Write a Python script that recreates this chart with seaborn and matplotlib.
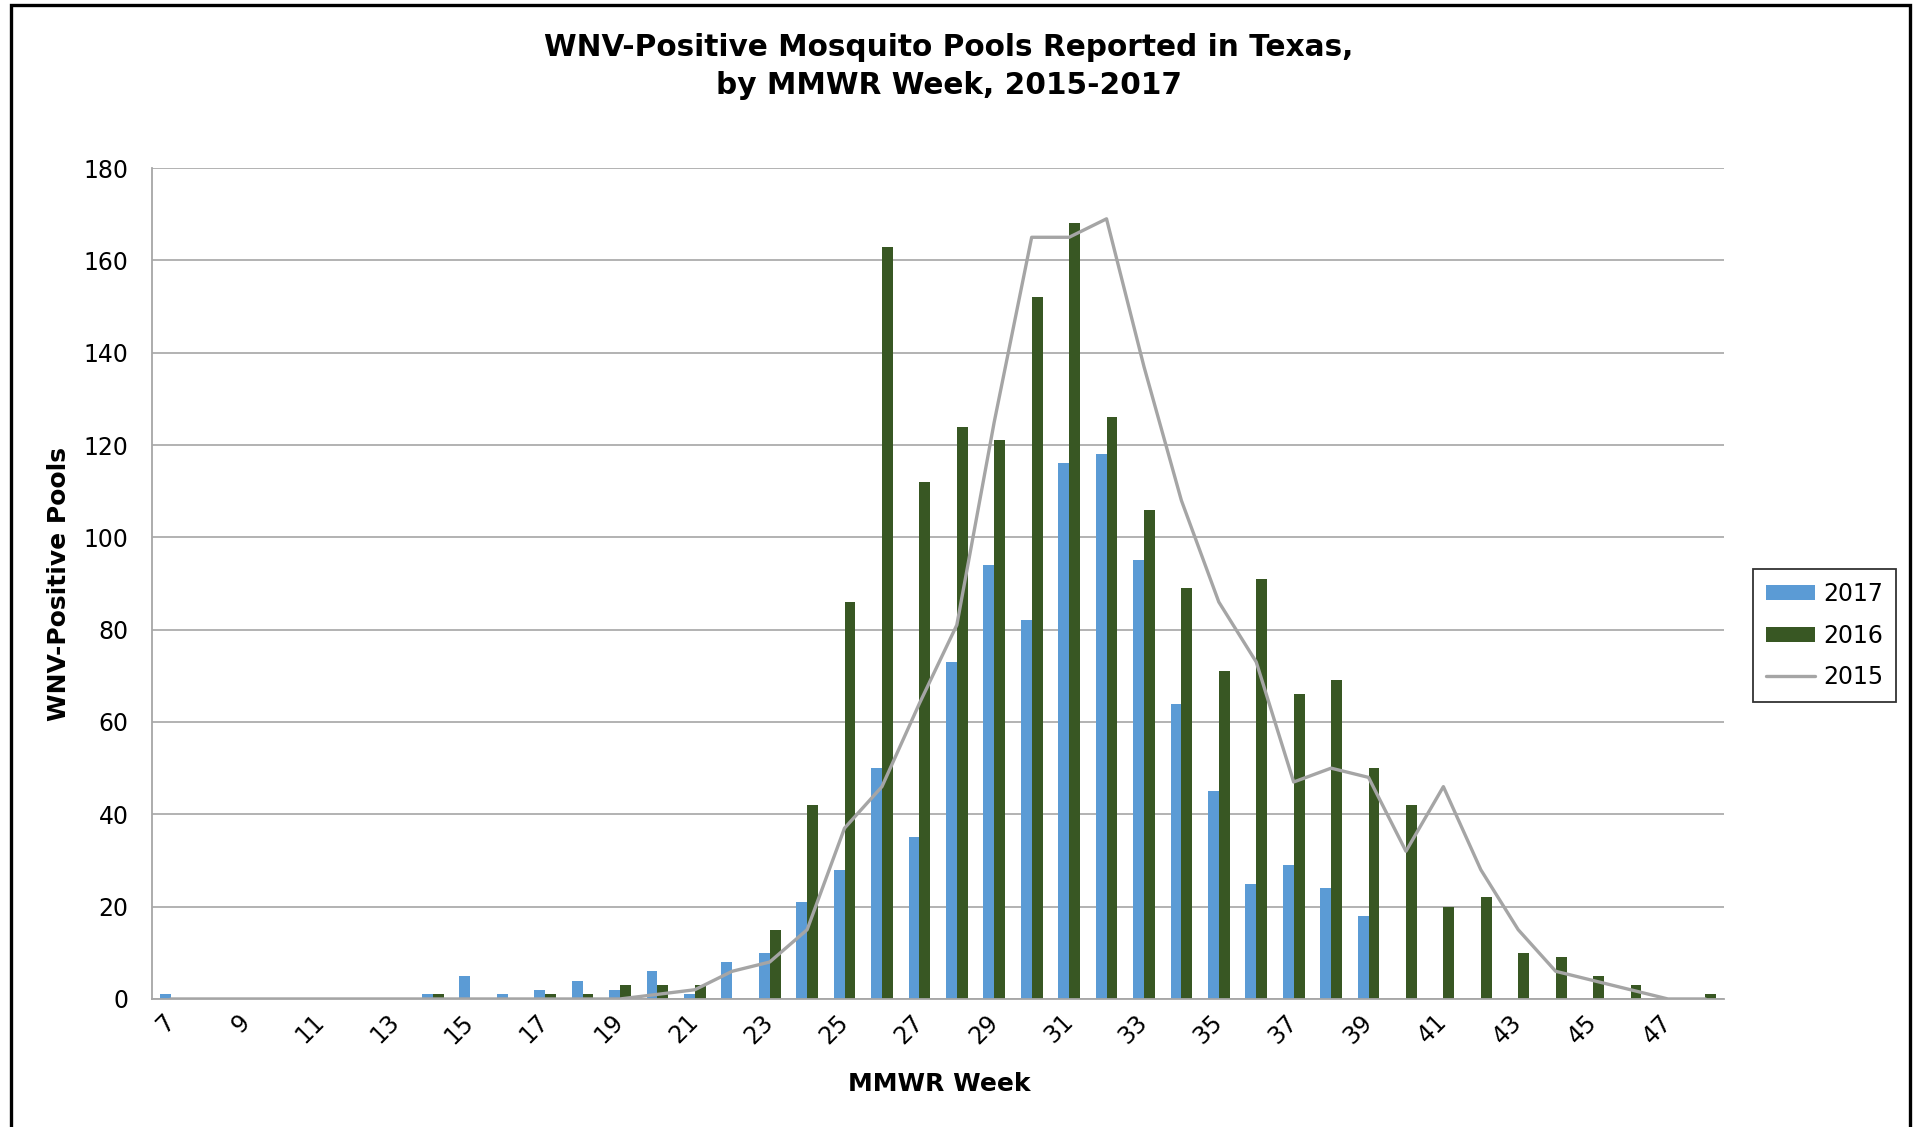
import numpy as np
import pandas as pd
import matplotlib
matplotlib.use("Agg")
import matplotlib.pyplot as plt
import seaborn as sns
from matplotlib.patches import Patch, Rectangle
from matplotlib.lines import Line2D

# ---- data ----
weeks = list(range(7, 49))
v2017 = [1, 0, 0, 0, 0, 0, 0, 1, 5, 1, 2, 4, 2, 6, 1, 8, 10, 21, 28, 50, 35, 73,
         94, 82, 116, 118, 95, 64, 45, 25, 29, 24, 18, 0, 0, 0, 0, 0, 0, 0, 0, 0]
v2016 = [0, 0, 0, 0, 0, 0, 0, 1, 0, 0, 1, 1, 3, 3, 3, 0, 15, 42, 86, 163, 112, 124,
         121, 152, 168, 126, 106, 89, 71, 91, 66, 69, 50, 42, 20, 22, 10, 9, 5, 3, 0, 1]
v2015 = [0, 0, 0, 0, 0, 0, 0, 0, 0, 0, 0, 0, 0, 1, 2, 6, 8, 15, 37, 46, 64, 81,
         125, 165, 165, 169, 137, 108, 86, 73, 47, 50, 48, 32, 46, 28, 15, 6, 4, 2, 0, 0]
years = ["2017", "2016", "2015"]
title = "WNV-Positive Mosquito Pools Reported in Texas,\nby MMWR Week, 2015-2017"
xlabel = "MMWR Week"
ylabel = "WNV-Positive Pools"
yticks = list(range(0, 181, 20))

BLUE = "#5B9BD5"
GREEN = "#385723"
GRAY = "#A5A5A5"

sns.set_theme(style="white")
plt.rcParams["font.family"] = ["DejaVu Sans"]
plt.rcParams.update({"text.color": "black", "axes.labelcolor": "black",
                     "xtick.color": "black", "ytick.color": "black"})

n = len(weeks)
week_labels = [str(w) for w in weeks]
df = pd.DataFrame({
    "week": week_labels * 2,
    "year": ["2017"] * n + ["2016"] * n,
    "value": v2017 + v2016,
})

fig = plt.figure(figsize=(19.18, 11.27), dpi=100)
ax = fig.add_axes([0.0793, 0.1136, 0.8196, 0.7373])

sns.barplot(data=df, x="week", y="value", hue="year", order=week_labels,
            hue_order=["2017", "2016"], palette=[BLUE, GREEN], width=0.58,
            saturation=1, dodge=True, legend=False, ax=ax, zorder=2,
            linewidth=0, edgecolor="none")
sns.lineplot(x=np.arange(n), y=v2015, color=GRAY, lw=2.4, ax=ax, zorder=3)

ax.set_xlim(-0.5, n - 0.5)
ax.set_ylim(0, 180)
ax.set_yticks(yticks)
ax.set_yticklabels([str(t) for t in yticks], fontsize=17)
ax.set_xticks(range(0, n, 2))
ax.set_xticklabels(week_labels[::2], fontsize=17, rotation=45, ha="right",
                   va="center", rotation_mode="anchor")
ax.tick_params(axis="y", length=0, pad=17)
ax.tick_params(axis="x", length=0, pad=14)

ax.yaxis.grid(True, color="#A6A6A6", lw=1.2)
ax.xaxis.grid(False)
ax.set_axisbelow(True)
for s in ["top", "right"]:
    ax.spines[s].set_visible(False)
for s in ["left", "bottom"]:
    ax.spines[s].set_color("#A6A6A6")
    ax.spines[s].set_linewidth(1.3)

ax.set_xlabel(xlabel, fontsize=18, fontweight="bold", va="center")
ax.xaxis.set_label_coords(0.501, -0.102)
ax.set_ylabel(ylabel, fontsize=18, fontweight="bold", va="center")
ax.yaxis.set_label_coords(-0.0592, 0.5)

fig.text(0.4948, 0.941, title, ha="center", va="center", fontsize=21.3,
         fontweight="bold", linespacing=1.35)

handles = [Patch(facecolor=BLUE, edgecolor="none"),
           Patch(facecolor=GREEN, edgecolor="none"),
           Line2D([0], [0], color=GRAY, lw=2.4)]
leg = fig.legend(handles, years, loc="center", bbox_to_anchor=(0.9513, 0.4361),
                 frameon=True, fancybox=False, fontsize=17, handlelength=2.05,
                 handleheight=0.6, labelspacing=0.75, borderpad=0.55,
                 handletextpad=0.35, borderaxespad=0)
leg.get_frame().set_edgecolor("black")
leg.get_frame().set_linewidth(1.3)

fig.patches.append(Rectangle((0.0055, -0.05), 0.9903, 1.0456, transform=fig.transFigure,
                             fill=False, edgecolor="black", lw=2.4, clip_on=False))

fig.savefig("out.png", dpi=100, facecolor="white")
